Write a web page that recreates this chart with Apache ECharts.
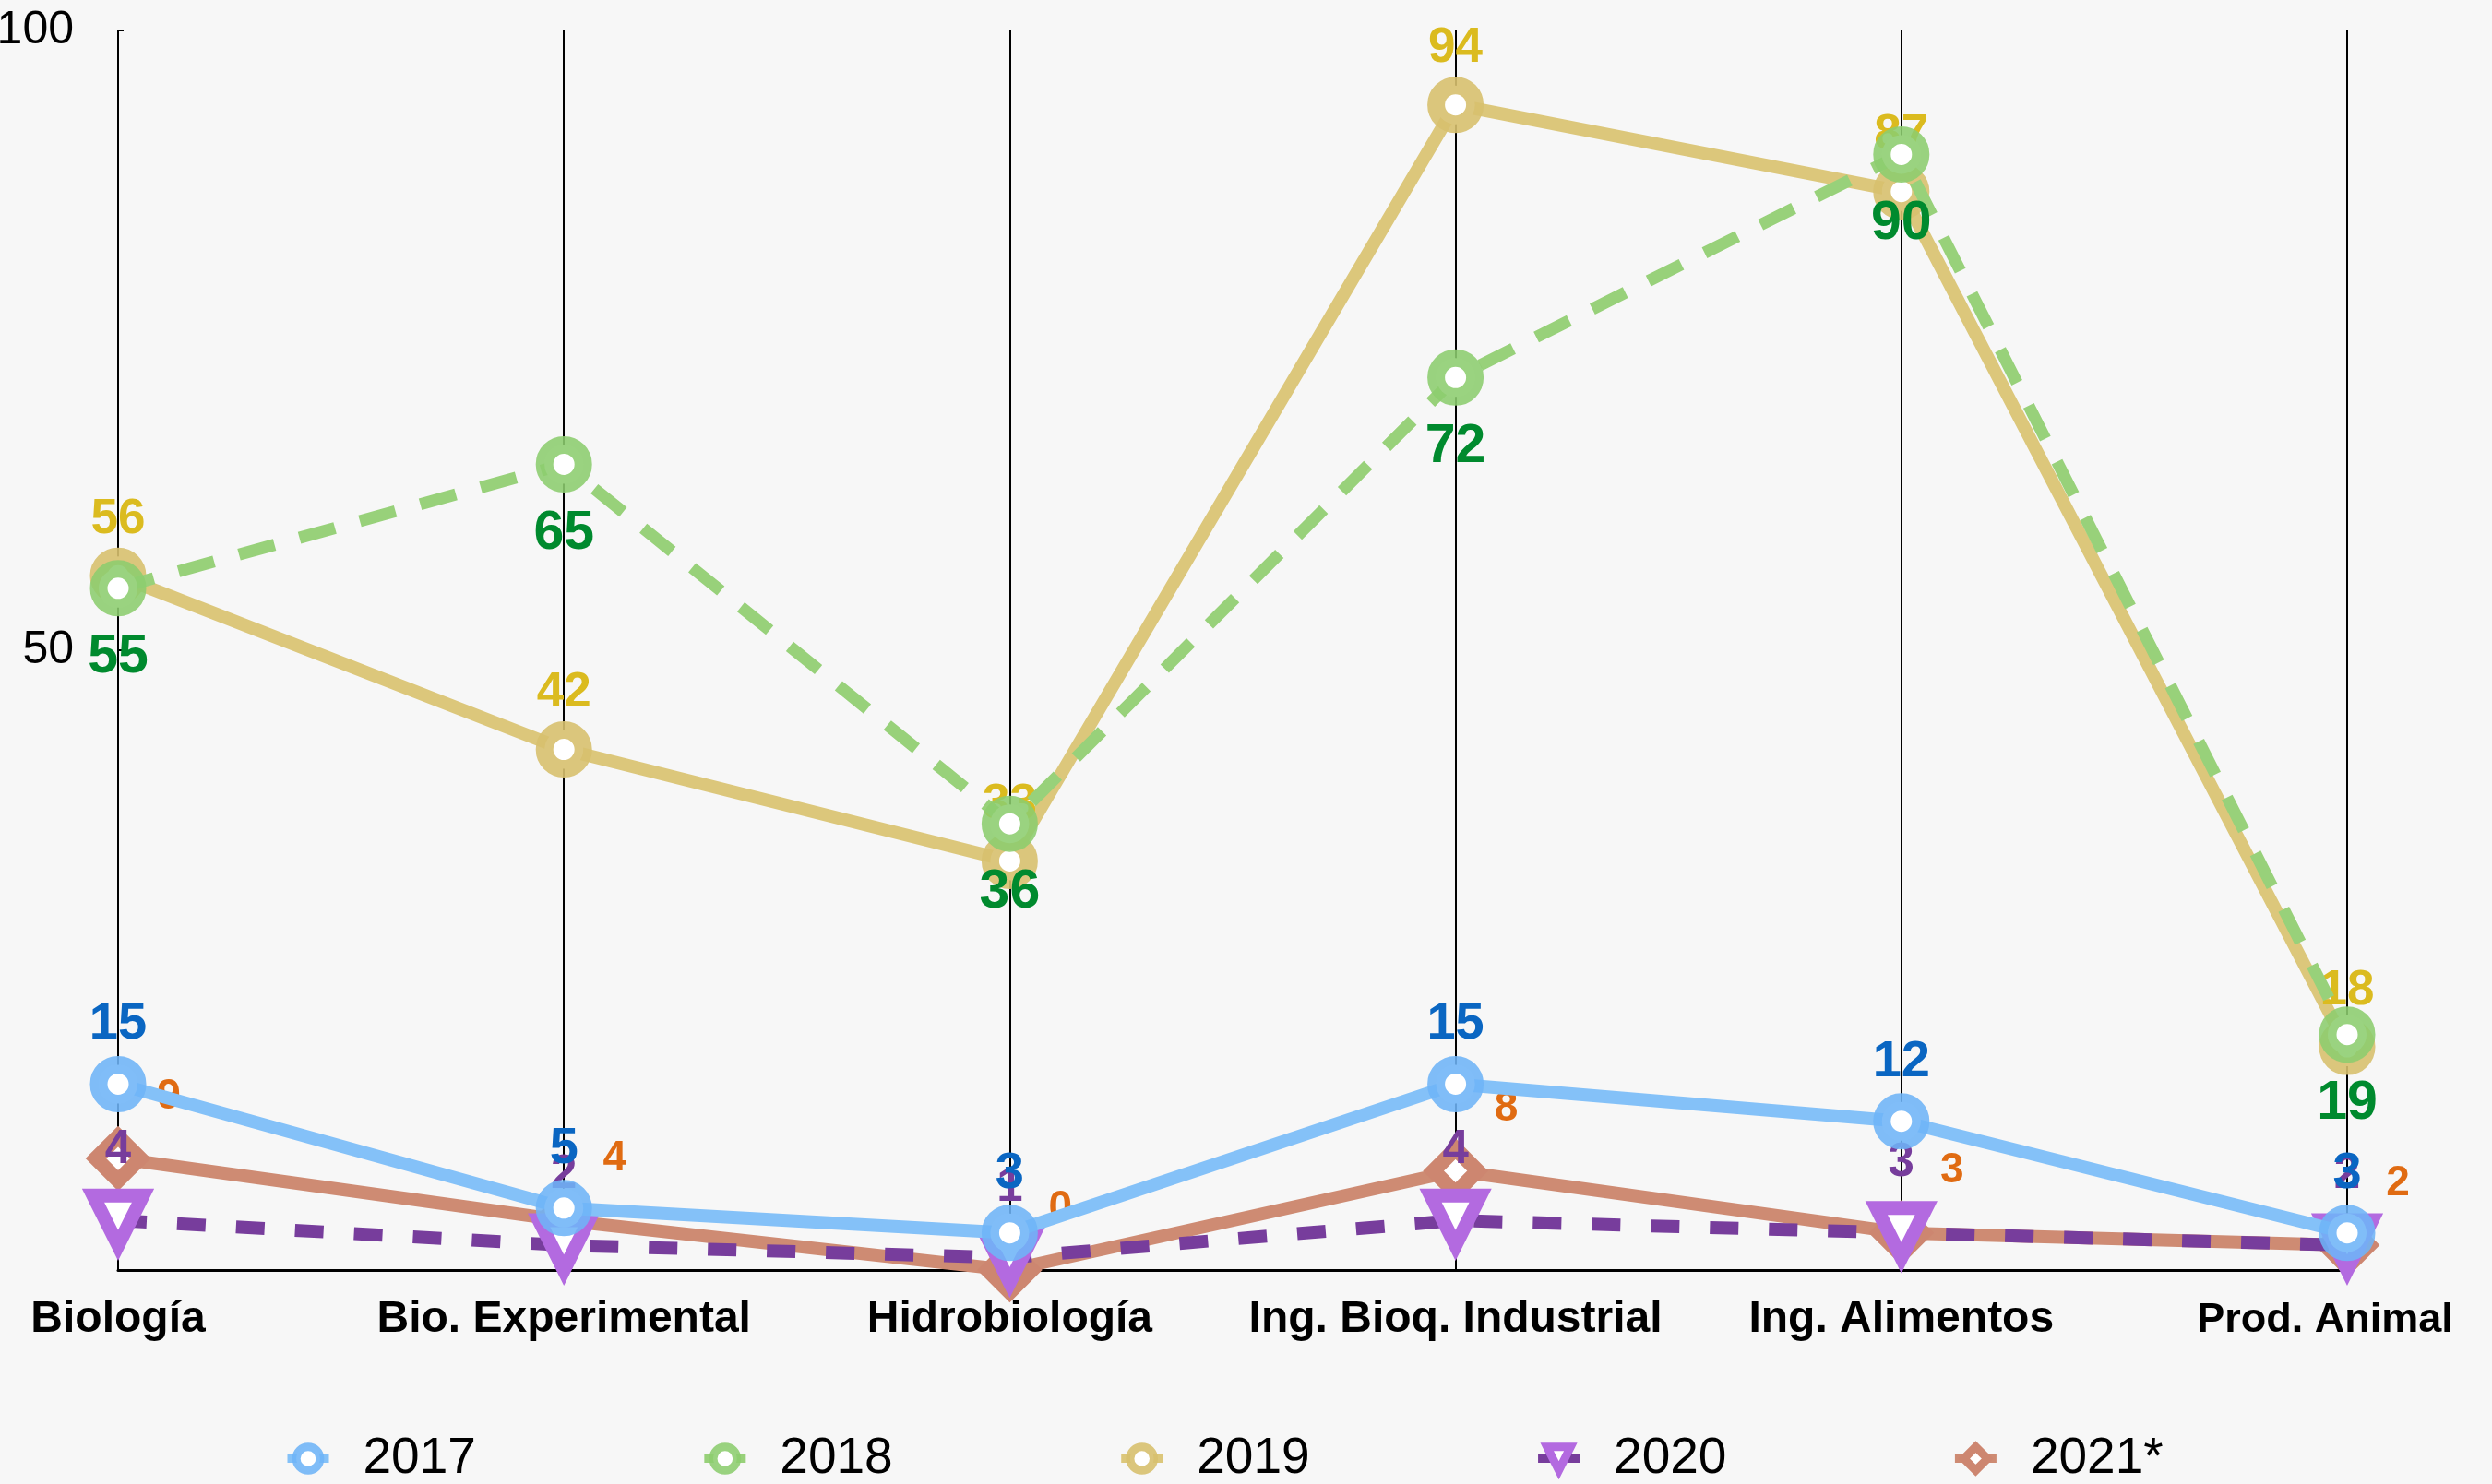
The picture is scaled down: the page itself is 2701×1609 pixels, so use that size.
<!DOCTYPE html>
<html><head><meta charset="utf-8">
<script src="https://cdn.jsdelivr.net/npm/echarts@6/dist/echarts.min.js"></script>
<style>html,body{margin:0;padding:0;background:#f7f7f7}#c{width:2701px;height:1609px}</style>
</head><body><div id="c"></div>
<script>
const categories = ['Biología', 'Bio. Experimental', 'Hidrobiología', 'Ing. Bioq. Industrial', 'Ing. Alimentos', 'Prod. Animal'];
const yearNames = ['2017', '2018', '2019', '2020', '2021*'];
const values2017 = [15, 5, 3, 15, 12, 3];
const values2018 = [55, 65, 36, 72, 90, 19];
const values2019 = [56, 42, 33, 94, 87, 18];
const values2020 = [4, 2, 1, 4, 3, 2];
const values2021 = [9, 4, 0, 8, 3, 2];
const yMin = 0, yMax = 100, yStep = 50;

const FONT = "'Helvetica Neue', Helvetica, 'Liberation Sans', Arial, sans-serif";
const chart = echarts.init(document.getElementById('c'), null, {renderer: 'canvas'});

function lbl(color, size, position, distance, offset) {
  const o = {show: true, position: position, distance: distance, color: color,
    fontSize: size, fontWeight: 'bold', fontFamily: FONT};
  if (offset) o.offset = offset;
  return o;
}

const lastCat = categories[categories.length - 1];

const option = {
  backgroundColor: '#f7f7f7',
  animation: false,
  grid: {left: 128, right: 157, top: 33, bottom: 232, containLabel: false, outerBoundsMode: 'none'},
  legend: {
    data: yearNames,
    left: 302, top: 1549,
    itemWidth: 45, itemHeight: 32, itemGap: 243,
    textStyle: {color: '#000', fontSize: 55, fontFamily: FONT, padding: [0, 0, 0, 32]},
    itemStyle: {borderWidth: 9},
    lineStyle: {width: 9, type: 'solid'}
  },
  xAxis: {
    type: 'category', data: categories, boundaryGap: false,
    axisLine: {show: true, lineStyle: {color: '#000', width: 3}},
    axisTick: {show: false},
    splitLine: {show: true, lineStyle: {color: '#000', width: 2}},
    axisLabel: {
      color: '#000', fontSize: 48, fontWeight: 'bold', fontFamily: FONT, margin: 30, interval: 0,
      formatter: function (v) { return v === lastCat ? '{last|' + v + '}' : v; },
      rich: {last: {color: '#000', fontSize: 45, fontWeight: 'bold', fontFamily: FONT, padding: [2, 48, 0, 0]}}
    }
  },
  yAxis: {
    type: 'value', min: yMin, max: yMax, interval: yStep,
    axisLine: {show: true, lineStyle: {color: '#000', width: 2}},
    axisTick: {show: true, inside: true, length: 6, lineStyle: {color: '#000', width: 2}},
    splitLine: {show: false},
    axisLabel: {color: '#000', fontSize: 50, fontFamily: FONT, margin: 48, showMinLabel: false}
  },
  series: [
    {
      name: yearNames[0], type: 'line', data: values2017, z: 7,
      symbol: 'circle', symbolSize: 42,
      lineStyle: {color: '#84c1f8', width: 14},
      itemStyle: {color: '#ffffff', borderColor: 'rgba(110,180,247,0.88)', borderWidth: 19},
      label: lbl('#0a66c2', 56, 'top', 6)
    },
    {
      name: yearNames[1], type: 'line', data: values2018, z: 6,
      symbol: 'circle', symbolSize: 42,
      lineStyle: {color: '#98d17a', width: 13, type: [40, 28]},
      itemStyle: {color: '#ffffff', borderColor: 'rgba(140,205,110,0.88)', borderWidth: 19},
      label: lbl('#008a2e', 59, 'bottom', 15)
    },
    {
      name: yearNames[2], type: 'line', data: values2019, z: 5,
      symbol: 'circle', symbolSize: 42,
      lineStyle: {color: '#dcc77b', width: 14},
      itemStyle: {color: '#ffffff', borderColor: 'rgba(215,192,110,0.9)', borderWidth: 19},
      label: lbl('#dbbb1f', 53, 'top', 4)
    },
    {
      name: yearNames[3], type: 'line', data: values2020, z: 4,
      symbol: 'triangle', symbolSize: 54, symbolRotate: 180,
      lineStyle: {color: '#773d9c', width: 14, type: [31, 33]},
      itemStyle: {color: '#ffffff', borderColor: '#b36ae0', borderWidth: 15},
      label: lbl('#773d9c', 51, 'top', 16)
    },
    {
      name: yearNames[4], type: 'line', data: values2021, z: 3,
      symbol: 'diamond', symbolSize: 48,
      lineStyle: {color: '#ce8b73', width: 14},
      itemStyle: {color: '#ffffff', borderColor: '#cd8670', borderWidth: 16},
      label: lbl('#e06b12', 46, 'inside', 0, [55, -67])
    }
  ]
};
chart.setOption(option);
</script>
</body></html>
